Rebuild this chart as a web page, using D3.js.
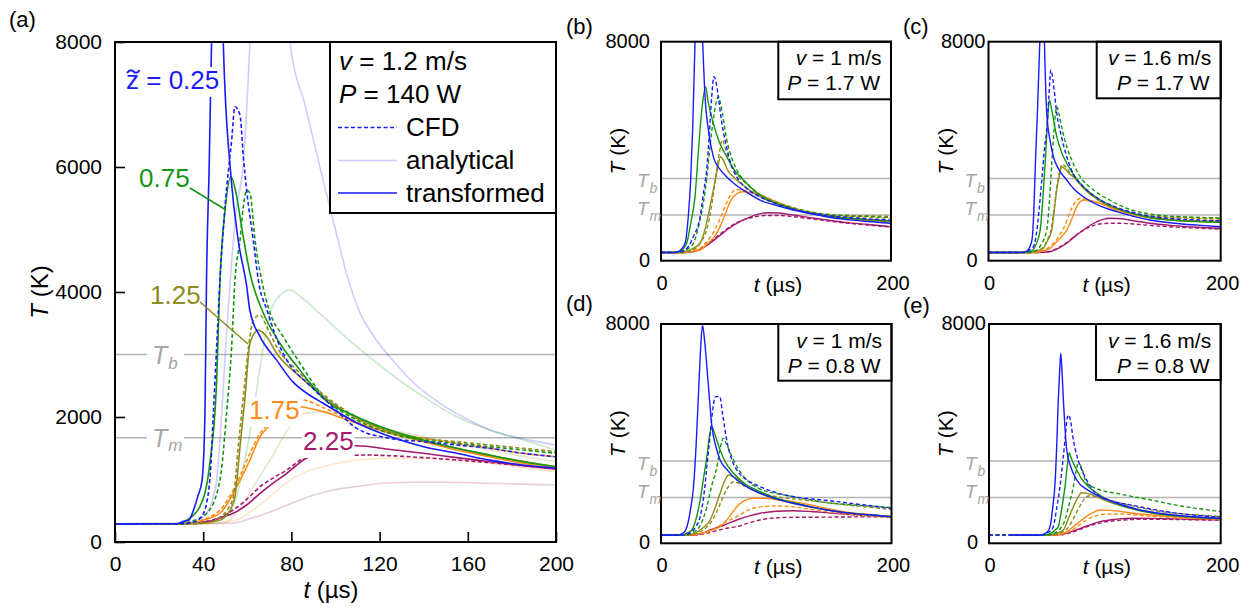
<!DOCTYPE html>
<html>
<head>
<meta charset="utf-8">
<script src="https://cdn.jsdelivr.net/npm/d3@7"></script>
<style>
  body { margin: 0; background: #fff; }
  svg text { font-family: "Liberation Sans", Arial, Helvetica, sans-serif; }
</style>
</head>
<body>
<svg id="chart" width="1247" height="608"></svg>
<script>
// ---------- shared settings ----------
const zLevels = ["0.25", "0.75", "1.25", "1.75", "2.25"];
const zColors = ["#1a1aff", "#139613", "#8f8c1c", "#ff8a14", "#a3196e"];
const T_b = 3000;   // boiling temperature (K)
const T_m = 1670;   // melting temperature (K)
const xTicks = [0, 40, 80, 120, 160, 200];
const yTicks = [0, 2000, 4000, 6000, 8000];

// ---------- (a) v = 1.2 m/s, P = 140 W : [t (us), T (K)] ----------
const a025_cfd = [[0,290],[30,292],[36,320],[40,450],[43,990],[44.6,2060],[46.1,3125],[47.6,4190],[49.9,5365],[52.9,6430],[54.4,6965],[56.7,6830],[58.2,6165],[59.7,5630],[62.7,4830],[65,4190],[69,3700],[74.8,3125],[80,2800],[87,2550],[94.5,2300],[102,2050],[109.6,1819],[124.7,1659],[139.8,1605],[155,1552],[170,1499],[185,1419],[200,1365]];
const a025_an  = [[0,290],[30,295],[36,330],[41.6,460],[44,650],[46.1,990],[48.4,2060],[50.5,3300],[52.5,4300],[55,5300],[58.2,6060],[61.2,8000],[64,10500],[69,12500],[74,10600],[79.4,8000],[86.2,6990],[93,5985],[99.8,5025],[105.2,4270],[111.1,3665],[117.9,3265],[124.7,2960],[135,2560],[147.4,2219],[160,1960],[170,1792],[185,1650],[200,1552]];
const a025_tr  = [[0,290],[28,292],[31,330],[33.5,350],[35.5,500],[37.5,725],[39.5,990],[40.8,2060],[41.5,4190],[42.7,6000],[43.8,8000],[45,10500],[46.5,11200],[47.8,10000],[49.1,8000],[52.6,5845],[56,4800],[59.7,4100],[61.2,3700],[65.8,3285],[73.3,2910],[81,2550],[87,2380],[94.4,2220],[110,1900],[125,1685],[140,1525],[155,1420],[170,1310],[185,1232],[200,1180]];

const a075_cfd = [[0,290],[30,292],[34,325],[41.6,460],[47.6,990],[50.6,2060],[52.9,3125],[54.4,4190],[56.7,4830],[58.2,5365],[59.7,5630],[61.2,5580],[63.5,4830],[66.5,4190],[70,3700],[76.3,3285],[83.9,2860],[94.5,2325],[109.6,1952],[124.7,1739],[139.8,1632],[155,1579],[170,1525],[185,1472],[200,1419]];
const a075_an  = [[0,290],[35,300],[42,330],[47.6,350],[52,500],[55.2,725],[58.5,1250],[62.7,2060],[66,2850],[70.3,3660],[75,3950],[79.4,4030],[85,3900],[94.4,3605],[109.6,3125],[124.7,2700],[139.8,2325],[155,2005],[170,1792],[185,1632],[200,1472]];
const a075_tr  = [[0,290],[28,292],[32.5,350],[38.5,565],[43,1259],[46.1,2590],[47.6,4190],[49.9,5310],[52.6,5845],[55.2,5525],[57.4,5045],[61.2,4300],[67.3,3660],[74.8,3180],[83.9,2750],[94.4,2300],[109.6,2005],[124.7,1792],[139.8,1632],[155,1500],[170,1392],[185,1285],[200,1205]];

const a125_cfd = [[0,290],[35,292],[42,310],[48,400],[51,520],[53.7,725],[55.9,1525],[58.2,2325],[61.2,3285],[62.7,3550],[65.8,3630],[68.8,3445],[73.3,3125],[83.9,2700],[94.5,2360],[109.6,2000],[124.7,1780],[139.8,1659],[155,1605],[170,1552],[185,1499],[200,1445]];
const a125_an  = [[0,290],[40,295],[50.6,325],[57,550],[62.7,885],[70.3,1312],[79.4,1845],[86,2060],[95,2090],[109.6,1952],[124.7,1800],[139.8,1685],[155,1570],[170,1472],[185,1370],[200,1285]];
const a125_tr  = [[0,290],[36,292],[40,299],[47.6,350],[52.2,510],[54.4,725],[56.7,1525],[59,2325],[61.2,3180],[65,3390],[68.8,3285],[73.3,3020],[83.9,2645],[94.5,2325],[109.6,1980],[124.7,1765],[139.8,1620],[155,1500],[170,1385],[185,1290],[200,1205]];

const a175_cfd = [[0,290],[30,292],[38,330],[43,400],[47.6,510],[55.2,939],[61.2,1419],[65.8,1739],[69.5,1899],[74,2120],[79,2250],[83.9,2283],[88,2250],[94.5,2150],[109.6,1925],[124.7,1760],[139.8,1659],[155,1579],[170,1499],[185,1419],[200,1365]];
const a175_an  = [[0,290],[45,300],[55,350],[62,500],[70.3,725],[79.4,992],[87,1130],[94.4,1205],[109.6,1312],[124.7,1339],[140,1335],[155,1312],[170,1260],[185,1190],[200,1125]];
const a175_tr  = [[0,290],[30,292],[34,299],[40,350],[47.6,460],[55.2,885],[61.2,1312],[65.8,1685],[69.5,1845],[74,2030],[79,2140],[83.9,2165],[88,2140],[94.5,2085],[109.6,1899],[124.7,1739],[139.8,1605],[155,1472],[170,1365],[185,1259],[200,1179]];

const a225_cfd = [[0,290],[30,292],[38,315],[45,360],[53.6,512],[60,690],[65.8,885],[72,1030],[77.9,1152],[82,1260],[86.9,1365],[93,1380],[99,1380],[114,1392],[125,1380],[140,1350],[155,1312],[170,1270],[185,1220],[200,1179]];
const a225_an  = [[0,290],[45,292],[53.2,300],[60,360],[68.8,459],[76,560],[83.9,672],[91,760],[99,832],[110,890],[121.7,939],[135,955],[150,955],[165,945],[180,930],[200,912]];
const a225_tr  = [[0,290],[30,292],[38,310],[43,330],[48,390],[53.6,459],[60,600],[65.8,779],[72,950],[77.9,1099],[82,1220],[85.4,1312],[88.4,1365],[95,1470],[102,1535],[109.6,1541],[125,1480],[139.8,1419],[155,1350],[170,1285],[185,1220],[200,1163]];

// ---------- (b) v = 1 m/s, P = 1.7 W ----------
const b025_cfd = [[0,300],[14,305],[20.9,391],[28.1,877],[34,1607],[37,2500],[39.7,3313],[42,4600],[44.1,5990],[46,6720],[47.5,6600],[49.8,5990],[53,5000],[57,4164],[61,3500],[65.8,3068],[75,2620],[86,2338],[100,2080],[120,1830],[140,1680],[160,1590],[180,1530],[200,1487]];
const b025_tr  = [[0,300],[12,302],[15,330],[20.9,636],[23.7,1607],[25.8,2948],[27.5,4774],[29.6,8000],[31.5,10500],[33,11000],[34.8,9500],[36.2,8000],[38.3,5990],[41.5,4700],[45.5,3800],[51,3350],[57,3070],[64,2800],[71.6,2580],[86,2217],[100,2020],[115,1852],[130,1720],[144,1607],[160,1510],[180,1430],[200,1366]];
const b075_cfd = [[0,300],[16,305],[22,400],[28.1,636],[33,1300],[36.8,2097],[40,3100],[42.6,4164],[46,5300],[49.8,5990],[52,5700],[57.2,4410],[62,3700],[66,3313],[75,2800],[86,2400],[100,2120],[120,1850],[140,1700],[160,1640],[180,1610],[200,1580]];
const b075_tr  = [[0,300],[14,305],[18,380],[22.3,636],[26,1400],[29.6,2338],[32,3700],[33.9,4774],[36,5700],[38.8,6356],[41,5800],[45.5,5019],[51,4300],[57.2,3800],[64,3300],[71.6,2948],[86,2400],[100,2100],[120,1820],[140,1650],[160,1560],[180,1500],[200,1450]];
const b125_cfd = [[0,300],[18,302],[28,400],[35,700],[39.7,1120],[44,2000],[48,3200],[51,4000],[53.3,4410],[56,4100],[60,3600],[65,3200],[75,2800],[86,2420],[100,2150],[120,1880],[140,1720],[160,1660],[180,1640],[200,1620]];
const b125_tr  = [[0,300],[16,302],[24,380],[33.9,636],[38,1100],[42.6,1973],[46,2700],[48.4,3190],[51.9,3800],[55,3600],[58,3300],[62.9,3068],[70,2800],[86,2338],[100,2080],[120,1830],[140,1660],[160,1560],[180,1500],[200,1450]];
const b175_cfd = [[0,300],[20,302],[28,360],[34,450],[40,700],[47,1150],[53,1700],[58,2200],[62,2500],[65,2600],[70,2580],[78,2520],[86,2420],[100,2160],[120,1870],[140,1700],[160,1620],[180,1590],[200,1560]];
const b175_tr  = [[0,300],[20,302],[28,350],[33.9,391],[40,600],[48.4,1000],[53,1400],[57.2,1852],[60,2150],[63,2338],[67,2470],[71.6,2520],[78,2480],[86,2400],[100,2150],[120,1850],[140,1660],[160,1540],[180,1470],[200,1420]];
const b225_cfd = [[0,300],[20,302],[28,340],[35,460],[42.6,680],[50,930],[57.2,1160],[64,1350],[71.6,1490],[80,1590],[92,1650],[103,1650],[115,1610],[130,1530],[144,1460],[160,1380],[180,1300],[200,1230]];
const b225_tr  = [[0,300],[20,302],[28,329],[35,430],[42.6,636],[50,880],[57.2,1121],[64,1320],[71.6,1487],[80,1640],[92,1754],[103,1740],[115,1670],[130,1570],[144,1487],[160,1400],[180,1320],[200,1242]];

// ---------- (c) v = 1.6 m/s, P = 1.7 W ----------
const c025_cfd = [[0,300],[30,303],[35,380],[38.7,511],[41,900],[43,1607],[46,3000],[48.5,4200],[50.2,4774],[52,6000],[53.7,6966],[55.5,6600],[58.8,5385],[63,4500],[67.4,3800],[74,3100],[81.7,2703],[95,2250],[110,1950],[125,1750],[140,1620],[160,1530],[180,1490],[200,1450]];
const c025_tr  = [[0,300],[28,302],[33,350],[35.5,500],[37.6,800],[39,1800],[40.4,3560],[42.2,5500],[44.2,8000],[45.5,10000],[46.5,10500],[47.5,9500],[48.2,8000],[50.2,5385],[53,4400],[55.9,3800],[61,3300],[67.4,2948],[74,2600],[81.7,2338],[95,2020],[110.5,1790],[125,1620],[139,1487],[160,1370],[180,1300],[200,1242]];
const c075_cfd = [[0,300],[34,303],[42,400],[46,650],[50.2,1120],[52.5,2200],[54.5,3560],[56.5,4800],[58.8,5625],[61,5300],[64,4700],[67.4,4164],[73,3550],[79,3068],[90,2600],[105,2200],[120,1900],[140,1700],[160,1620],[180,1580],[200,1550]];
const c075_tr  = [[0,300],[32,302],[38,380],[41,600],[44.5,1120],[46.7,2200],[48.8,3560],[50.7,5000],[52.5,5870],[54.5,5500],[58.8,4530],[63,3950],[67.4,3560],[74,3100],[81.7,2703],[95,2250],[110,1930],[125,1720],[140,1580],[160,1480],[180,1430],[200,1400]];
const c125_cfd = [[0,300],[36,302],[42,370],[47,480],[51,800],[54,1150],[56.5,1900],[59,2750],[61.5,3300],[63.5,3520],[66,3450],[69,3280],[73,3100],[81.7,2700],[95,2250],[110,1950],[125,1750],[140,1640],[160,1600],[180,1580],[200,1560]];
const c125_tr  = [[0,300],[36,302],[42,360],[47.3,453],[51,750],[54.5,1120],[56.5,1800],[58.8,2583],[61,3100],[63.1,3434],[66,3350],[69,3200],[73,3068],[81.7,2650],[95,2200],[110,1900],[125,1700],[140,1560],[160,1480],[180,1450],[200,1440]];
const c175_cfd = [[0,300],[40,302],[47,380],[53,520],[60,850],[66,1300],[71,1850],[75,2150],[79,2280],[84,2250],[92,2150],[105,1950],[120,1760],[140,1620],[160,1570],[180,1540],[200,1510]];
const c175_tr  = [[0,300],[40,302],[47,360],[53,453],[60,750],[67.4,1120],[72,1550],[76,1973],[79,2150],[81.7,2217],[88,2180],[96,2097],[110,1850],[125,1680],[140,1560],[160,1480],[180,1440],[200,1420]];
const c225_cfd = [[0,300],[42,302],[53,340],[60,470],[67.4,660],[74,890],[81.7,1110],[90,1280],[100,1360],[110,1370],[125,1340],[139,1290],[160,1230],[180,1190],[200,1150]];
const c225_tr  = [[0,300],[42,302],[53,329],[60,450],[67.4,636],[74,870],[81.7,1120],[90,1350],[98,1500],[105,1548],[115,1530],[125,1460],[139,1366],[160,1280],[180,1220],[200,1183]];

// ---------- (d) v = 1 m/s, P = 0.8 W ----------
const d025_cfd = [[0,303],[18,305],[26,400],[30,600],[34,970],[37,1700],[39.8,2795],[42,3700],[44.2,4619],[46,5200],[47.5,5350],[51,5350],[53.5,4700],[57,3768],[61,3100],[65.8,2674],[75,2300],[86,2065],[100,1850],[115,1700],[130,1620],[145,1560],[160,1480],[180,1380],[200,1277]];
const d025_tr  = [[0,303],[15,305],[20,400],[22.5,606],[25.5,1200],[28.2,2065],[30.5,3600],[32.3,5228],[34,6800],[36,7963],[37.8,7400],[39.8,6443],[42,5300],[44.2,4254],[47.5,3550],[51.3,3039],[58,2650],[65.8,2309],[75,2050],[86,1824],[100,1620],[114.8,1459],[130,1330],[143.6,1215],[160,1120],[180,1040],[200,970]];
const d075_cfd = [[0,303],[20,305],[28,400],[34,650],[39.8,1335],[44,2100],[48.5,2795],[51.5,3500],[54.2,3830],[57,3600],[62.9,3039],[68,2650],[74.5,2309],[85,2000],[100,1820],[114.8,1700],[130,1580],[143.6,1480],[160,1420],[180,1360],[200,1300]];
const d075_tr  = [[0,303],[18,305],[23,380],[26.8,485],[30.5,900],[34,1580],[37,2400],[39.8,3160],[42,3900],[44.2,4254],[46.5,4000],[51.3,3404],[56,2950],[62.9,2554],[72,2200],[86,1883],[100,1650],[115,1480],[130,1340],[145,1220],[160,1120],[180,1040],[200,975]];
const d125_cfd = [[0,303],[24,305],[32,380],[40,600],[46,950],[51,1400],[55,1800],[59,2100],[62.9,2247],[67,2200],[74,2050],[86,1850],[100,1700],[115,1620],[130,1550],[145,1480],[160,1400],[180,1320],[200,1240]];
const d125_tr  = [[0,303],[22,305],[30,380],[36,550],[42.7,850],[47,1300],[51.3,1824],[55,2250],[58.5,2492],[63,2420],[68,2300],[74.5,2065],[86,1820],[100,1600],[115,1450],[130,1320],[145,1210],[160,1120],[180,1040],[200,975]];
const d175_cfd = [[0,303],[28,305],[38,380],[46,520],[55,750],[65.8,970],[75,1200],[86,1330],[100,1360],[114.8,1330],[130,1240],[145,1150],[160,1070],[180,1000],[200,950]];
const d175_tr  = [[0,303],[26,305],[36,380],[44,480],[51.3,606],[58,900],[65.8,1335],[72,1550],[80,1642],[90,1640],[100,1600],[114.8,1519],[130,1400],[145,1260],[160,1140],[180,1050],[200,975]];
const d225_cfd = [[0,303],[30,305],[40,370],[50,480],[58,560],[65.8,606],[76,740],[86,850],[100,930],[114.8,948],[130,950],[145,955],[160,960],[180,965],[200,960]];
const d225_tr  = [[0,303],[28,305],[36,360],[42.7,485],[54,650],[65.8,850],[76,990],[86,1094],[100,1170],[114.8,1190],[130,1160],[145,1110],[160,1060],[180,1010],[200,970]];

// ---------- (e) v = 1.6 m/s, P = 0.8 W ----------
const e025_cfd = [[0,303],[45,305],[52,420],[55.5,606],[58.5,1300],[61.3,2065],[63.5,2900],[65.6,3768],[67,4400],[68.5,4680],[70,4550],[72.8,3768],[76.5,3100],[81.4,2554],[88,2050],[95.9,1700],[110,1500],[124.6,1380],[140,1250],[153.6,1150],[170,1060],[185,1000],[200,960]];
const e025_tr  = [[18,303],[45,305],[50,400],[52.7,606],[55,1300],[57,2189],[58.5,3600],[59.8,5228],[61,6300],[61.9,6931],[63,6300],[64.2,5228],[65.6,4200],[67.1,3404],[70.5,2800],[75.7,2309],[85,1950],[95.9,1700],[110,1470],[124.6,1277],[140,1140],[160,1030],[180,960],[200,912]];
const e075_cfd = [[0,303],[50,305],[58,400],[62,560],[65.6,850],[69,1400],[72.8,2065],[75,2600],[77.1,2918],[79.5,2800],[84.4,2189],[90,2050],[95.9,1944],[110,1820],[124.6,1700],[140,1580],[153.4,1459],[170,1330],[185,1240],[200,1153]];
const e075_tr  = [[18,303],[48,305],[54,380],[57,480],[59.8,606],[62.5,1200],[65.6,2065],[67.5,2800],[69.3,3305],[71,3100],[75.7,2674],[80,2350],[84.4,2127],[95.9,1750],[110,1450],[124.6,1250],[140,1110],[160,1000],[180,940],[200,900]];
const e125_cfd = [[0,303],[54,305],[62,380],[68,560],[74,1000],[79,1400],[83,1650],[85.7,1726],[90,1710],[100,1620],[115,1450],[130,1300],[145,1180],[165,1080],[185,1020],[200,980]];
const e125_tr  = [[18,303],[52,305],[58,360],[64.2,485],[68.5,900],[72.8,1335],[76.5,1650],[80,1846],[85,1820],[95.9,1642],[110,1420],[124.6,1250],[140,1110],[160,1000],[180,940],[200,905]];
const e175_cfd = [[0,303],[58,305],[68,400],[76,600],[84,850],[92,1000],[100,1060],[112,1070],[125,1040],[140,990],[160,940],[180,900],[200,870]];
const e175_tr  = [[18,303],[55,305],[65,380],[72.8,606],[80,850],[88,1080],[95.9,1215],[105,1200],[124.6,1094],[140,1030],[160,970],[180,920],[200,890]];
const e225_cfd = [[0,303],[60,305],[68,360],[78,500],[88,650],[98,760],[110,830],[124.6,870],[140,880],[160,870],[180,855],[200,845]];
const e225_tr  = [[18,303],[58,305],[66,360],[75,480],[85,640],[95.9,790],[110,880],[124.6,912],[140,910],[160,890],[180,870],[200,855]];

// ---------- drawing ----------
const svg = d3.select("#chart");
const defs = svg.append("defs");

function drawPanel(cfg) {
  const x = d3.scaleLinear().domain([0, 200]).range([cfg.left, cfg.right]);
  const y = d3.scaleLinear().domain([0, 8000]).range([cfg.bottom, cfg.top]);
  const g = svg.append("g");

  defs.append("clipPath").attr("id", "clip-" + cfg.name)
    .append("rect")
    .attr("x", cfg.left).attr("y", cfg.top)
    .attr("width", cfg.right - cfg.left).attr("height", cfg.bottom - cfg.top);

  const plot = g.append("g").attr("clip-path", `url(#clip-${cfg.name})`);

  // boiling / melting reference lines
  [T_b, T_m].forEach(v => {
    plot.append("line")
      .attr("x1", cfg.left).attr("x2", cfg.right)
      .attr("y1", y(v)).attr("y2", y(v))
      .attr("stroke", "#b3b3b3").attr("stroke-width", 1.5);
  });

  const line = d3.line().x(d => x(d[0])).y(d => y(d[1])).curve(d3.curveMonotoneX);
  const lw = cfg.lineWidth;

  if (cfg.analytical) {
    cfg.analytical.forEach((d, i) => {
      plot.append("path").datum(d).attr("d", line)
        .attr("fill", "none").attr("stroke", zColors[i])
        .attr("stroke-opacity", 0.22).attr("stroke-width", lw);
    });
  }
  for (let i = zLevels.length - 1; i >= 0; i--) {
    plot.append("path").datum(cfg.cfd[i]).attr("d", line)
      .attr("fill", "none").attr("stroke", zColors[i])
      .attr("stroke-width", lw).attr("stroke-dasharray", "4,2.5");
    plot.append("path").datum(cfg.transformed[i]).attr("d", line)
      .attr("fill", "none").attr("stroke", zColors[i])
      .attr("stroke-width", lw);
  }
  return { g, x, y, plot };
}

function frame(cfg) {
  svg.append("rect")
    .attr("x", cfg.left).attr("y", cfg.top)
    .attr("width", cfg.right - cfg.left).attr("height", cfg.bottom - cfg.top)
    .attr("fill", "none").attr("stroke", "#000").attr("stroke-width", 2);
}

function italicLabel(sel, italicPart, rest) {
  sel.append("tspan").attr("font-style", "italic").text(italicPart);
  sel.append("tspan").text(rest);
}

// subscripted temperature label, e.g. T_b
function tempLabel(parent, x, yBase, sub, size, subSize, subDrop) {
  const t = parent.append("text").attr("x", x).attr("y", yBase)
    .attr("fill", "#a6a6a6").attr("font-size", size).attr("font-style", "italic");
  t.append("tspan").text("T");
  t.append("tspan").attr("font-size", subSize).attr("dy", subDrop).attr("dx", 1).text(sub);
  return t;
}

// ===== panel (a) =====
const cfgA = {
  name: "a", left: 115, right: 556, top: 42, bottom: 542, lineWidth: 1.6,
  analytical: [a025_an, a075_an, a125_an, a175_an, a225_an],
  cfd: [a025_cfd, a075_cfd, a125_cfd, a175_cfd, a225_cfd],
  transformed: [a025_tr, a075_tr, a125_tr, a175_tr, a225_tr]
};
const A = drawPanel(cfgA);

// labels on the curves, each on a white patch
const curveLabels = [
  { text: "0.25", x: 126, y: 89, leader: null, tilde: true },
  { text: "0.75", x: 139, y: 187, leader: [[190, 188], [226, 210]] },
  { text: "1.25", x: 150, y: 304, leader: [[200, 302], [248, 344]] },
  { text: "1.75", x: 249, y: 419, leader: null },
  { text: "2.25", x: 303, y: 450, leader: null }
];
curveLabels.forEach((c, i) => {
  const lg = A.g.append("g");
  const bg = lg.append("rect").attr("fill", "#fff");
  const t = lg.append("text").attr("x", c.x).attr("y", c.y)
    .attr("font-size", 26).attr("fill", zColors[i]);
  if (c.tilde) {
    t.append("tspan").text("z");
    t.append("tspan").text(" = " + c.text);
    // tilde accent over the z
    lg.append("path")
      .attr("d", `M${c.x + 1},${c.y - 16} c2.5,-4 5,-3 6.5,-1.5 c1.5,1.5 4,2.5 6,-1.5`)
      .attr("fill", "none").attr("stroke", zColors[i]).attr("stroke-width", 2);
  } else {
    t.text(c.text);
  }
  const bb = t.node().getBBox();
  bg.attr("x", bb.x - 1).attr("y", bb.y + 2).attr("width", bb.width + 2).attr("height", bb.height);
  if (c.leader) {
    lg.append("line")
      .attr("x1", c.leader[0][0]).attr("y1", c.leader[0][1])
      .attr("x2", c.leader[1][0]).attr("y2", c.leader[1][1])
      .attr("stroke", zColors[i]).attr("stroke-width", 1.5);
  }
});

// T_b / T_m labels inside (a)
A.g.append("rect").attr("x", 147).attr("y", 343).attr("width", 37).attr("height", 27).attr("fill", "#fff");
A.g.append("rect").attr("x", 147).attr("y", 427).attr("width", 37).attr("height", 25).attr("fill", "#fff");
tempLabel(A.g, 152, A.y(T_b) + 9, "b", 25, 17, 5);
tempLabel(A.g, 152, A.y(T_m) + 9, "m", 25, 17, 4);

// legend
const leg = A.g.append("g");
leg.append("rect").attr("x", 330).attr("y", 42).attr("width", 226).attr("height", 171)
  .attr("fill", "#fff").attr("stroke", "#000").attr("stroke-width", 2);
const lv = leg.append("text").attr("x", 339).attr("y", 70).attr("font-size", 26);
italicLabel(lv, "v", " = 1.2 m/s");
const lp = leg.append("text").attr("x", 339).attr("y", 103).attr("font-size", 26);
italicLabel(lp, "P", " = 140 W");
const legRows = [
  { label: "CFD", y: 127.5, dash: "4,2.5", op: 1 },
  { label: "analytical", y: 160.5, dash: null, op: 0.22 },
  { label: "transformed", y: 193, dash: null, op: 1 }
];
legRows.forEach(r => {
  leg.append("line").attr("x1", 338).attr("x2", 397).attr("y1", r.y).attr("y2", r.y)
    .attr("stroke", zColors[0]).attr("stroke-width", 1.6)
    .attr("stroke-opacity", r.op).attr("stroke-dasharray", r.dash);
  leg.append("text").attr("x", 406).attr("y", r.y + 8.5).attr("font-size", 26).text(r.label);
});

frame(cfgA);

// axes of (a): inward ticks, labels outside
const axX = svg.append("g").attr("transform", `translate(0,${cfgA.bottom})`)
  .call(d3.axisBottom(A.x).tickValues(xTicks).tickFormat(d3.format("d"))
    .tickSizeInner(-10).tickSizeOuter(0).tickPadding(14));
const axY = svg.append("g").attr("transform", `translate(${cfgA.left},0)`)
  .call(d3.axisLeft(A.y).tickValues(yTicks).tickFormat(d3.format("d"))
    .tickSizeInner(-10).tickSizeOuter(0).tickPadding(13));
[axX, axY].forEach(ax => {
  ax.select(".domain").remove();
  ax.selectAll(".tick line").attr("stroke", "#000").attr("stroke-width", 1.6);
  ax.selectAll(".tick text").attr("font-size", 21).attr("fill", "#000")
    .attr("font-family", "Liberation Sans, Arial, sans-serif");
});
const xl = svg.append("text").attr("x", 331).attr("y", 598).attr("text-anchor", "middle").attr("font-size", 24);
italicLabel(xl, "t", " (\u00b5s)");
const yl = svg.append("text").attr("transform", "translate(48,292) rotate(-90)")
  .attr("text-anchor", "middle").attr("font-size", 24);
italicLabel(yl, "T", " (K)");
svg.append("text").attr("x", 9).attr("y", 27).attr("font-size", 22).text("(a)");

// ===== small panels (b)-(e) =====
const smallPanels = [
  { name: "b", tag: "(b)", tagX: 566, tagY: 34, left: 661, right: 891, top: 41.7, bottom: 260.7, topNudge: 0,
    v: "1", p: "1.7", box: [778.3, 99.3],
    cfd: [b025_cfd, b075_cfd, b125_cfd, b175_cfd, b225_cfd],
    transformed: [b025_tr, b075_tr, b125_tr, b175_tr, b225_tr] },
  { name: "c", tag: "(c)", tagX: 903, tagY: 34, left: 988.5, right: 1220.7, top: 41.7, bottom: 260.7, topNudge: 8,
    v: "1.6", p: "1.7", box: [1096.7, 98.3],
    cfd: [c025_cfd, c075_cfd, c125_cfd, c175_cfd, c225_cfd],
    transformed: [c025_tr, c075_tr, c125_tr, c175_tr, c225_tr] },
  { name: "d", tag: "(d)", tagX: 566, tagY: 311, left: 661, right: 891.5, top: 324, bottom: 543.3, topNudge: 0,
    v: "1", p: "0.8", box: [778.3, 380.7],
    cfd: [d025_cfd, d075_cfd, d125_cfd, d175_cfd, d225_cfd],
    transformed: [d025_tr, d075_tr, d125_tr, d175_tr, d225_tr] },
  { name: "e", tag: "(e)", tagX: 903, tagY: 313, left: 989, right: 1220.7, top: 324, bottom: 543.3, topNudge: 8,
    v: "1.6", p: "0.8", box: [1096, 380],
    cfd: [e025_cfd, e075_cfd, e125_cfd, e175_cfd, e225_cfd],
    transformed: [e025_tr, e075_tr, e125_tr, e175_tr, e225_tr] }
];

smallPanels.forEach(sp => {
  sp.lineWidth = 1.4;
  const P = drawPanel(sp);

  // parameter box
  P.g.append("rect").attr("x", sp.box[0]).attr("y", sp.top)
    .attr("width", sp.right - sp.box[0]).attr("height", sp.box[1] - sp.top)
    .attr("fill", "#fff").attr("stroke", "#000").attr("stroke-width", 2);
  const tv = P.g.append("text").attr("x", sp.right - 9.5).attr("y", sp.top + 23.5)
    .attr("text-anchor", "end").attr("font-size", 21);
  italicLabel(tv, "v", ` = ${sp.v} m/s`);
  const tp = P.g.append("text").attr("x", sp.right - 11).attr("y", sp.top + 48.5)
    .attr("text-anchor", "end").attr("font-size", 21);
  italicLabel(tp, "P", ` = ${sp.p} W`);

  frame(sp);

  // tick labels only
  svg.append("text").attr("x", sp.left - 11 + sp.topNudge).attr("y", P.y(8000) + 6)
    .attr("text-anchor", "end").attr("font-size", 20).text("8000");
  svg.append("text").attr("x", sp.left - 11).attr("y", P.y(0) + 6)
    .attr("text-anchor", "end").attr("font-size", 20).text("0");
  svg.append("text").attr("x", P.x(0) + 1).attr("y", sp.bottom + 29)
    .attr("text-anchor", "middle").attr("font-size", 20).text("0");
  svg.append("text").attr("x", P.x(200) + 2).attr("y", sp.bottom + 29)
    .attr("text-anchor", "middle").attr("font-size", 20).text("200");

  const sx = svg.append("text").attr("x", (sp.left + sp.right) / 2 + 2).attr("y", sp.bottom + 31)
    .attr("text-anchor", "middle").attr("font-size", 21);
  italicLabel(sx, "t", " (\u00b5s)");
  const sy = svg.append("text")
    .attr("transform", `translate(${sp.left - 36},${(sp.top + sp.bottom) / 2}) rotate(-90)`)
    .attr("text-anchor", "middle").attr("font-size", 21);
  italicLabel(sy, "T", " (K)");

  tempLabel(svg, sp.left - 24, P.y(T_b) + 8.5, "b", 19, 14, 6);
  tempLabel(svg, sp.left - 24, P.y(T_m), "m", 19, 14, 6);

  svg.append("text").attr("x", sp.tagX).attr("y", sp.tagY).attr("font-size", 22).text(sp.tag);
});
</script>
</body>
</html>
